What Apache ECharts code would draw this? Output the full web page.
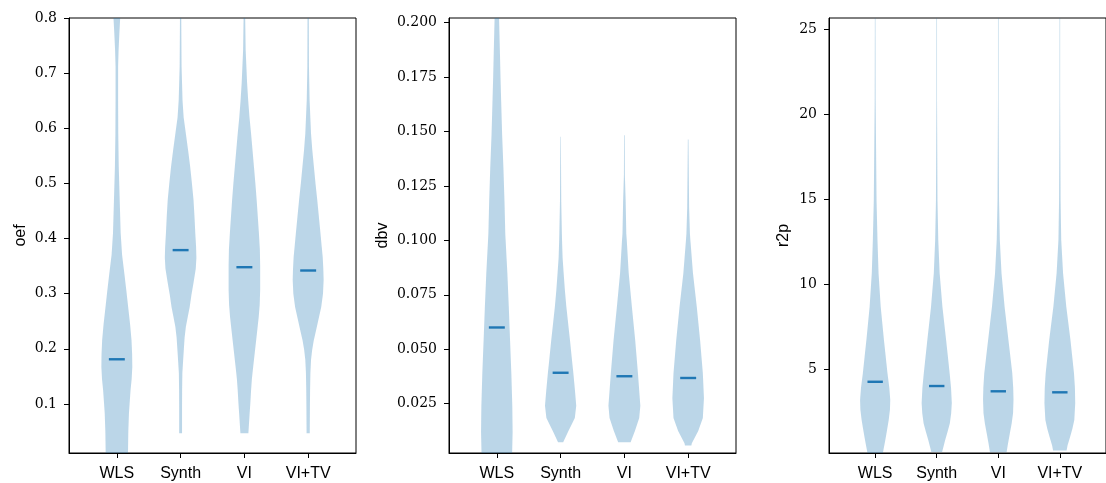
<!DOCTYPE html>
<html>
<head>
<meta charset="utf-8">
<script src="https://cdn.jsdelivr.net/npm/echarts@6/dist/echarts.min.js"></script>
<style>
html,body{margin:0;padding:0;background:#fff;}
#chart{width:1106px;height:483px;}
</style>
</head>
<body>
<div id="chart"></div>
<script>
// ---------- data ----------
const categories = ['WLS', 'Synth', 'VI', 'VI+TV'];
const positions = [1, 2, 3, 4];

const oefTicks = [0.1, 0.2, 0.3, 0.4, 0.5, 0.6, 0.7, 0.8];
const dbvTicks = [0.025, 0.05, 0.075, 0.1, 0.125, 0.15, 0.175, 0.2];
const r2pTicks = [5, 10, 15, 20, 25];

const oefMedians = [0.181, 0.379, 0.348, 0.342];
const dbvMedians = [0.060, 0.0392, 0.0376, 0.0368];
const r2pMedians = [4.25, 4.0, 3.69, 3.63];

// violin profiles: [value, relative density (1 = widest)]
const oefWLS = [[0.8,0.21],[0.773,0.16],[0.742,0.11],[0.712,0.08],[0.65,0.08],[0.59,0.09],[0.53,0.12],[0.47,0.18],[0.41,0.24],[0.37,0.33],[0.337,0.47],[0.305,0.6],[0.276,0.71],[0.245,0.83],[0.216,0.92],[0.19,0.96],[0.167,0.97],[0.145,0.93],[0.125,0.86],[0.1,0.8],[0.083,0.76],[0.05,0.72],[0.011,0.70]];
const oefSynth = [[0.8,0.04],[0.712,0.06],[0.651,0.12],[0.62,0.19],[0.59,0.33],[0.56,0.47],[0.53,0.6],[0.5,0.71],[0.47,0.81],[0.44,0.87],[0.41,0.92],[0.385,0.97],[0.365,0.99],[0.345,0.95],[0.32,0.81],[0.298,0.68],[0.276,0.57],[0.258,0.45],[0.24,0.33],[0.22,0.25],[0.198,0.2],[0.175,0.15],[0.156,0.11],[0.125,0.095],[0.094,0.09],[0.047,0.09]];
const oefVI = [[0.8,0.05],[0.742,0.08],[0.682,0.17],[0.65,0.24],[0.62,0.32],[0.59,0.42],[0.56,0.51],[0.53,0.6],[0.5,0.69],[0.47,0.77],[0.44,0.84],[0.41,0.91],[0.38,0.97],[0.35,0.99],[0.307,0.99],[0.28,0.96],[0.258,0.9],[0.237,0.82],[0.216,0.74],[0.19,0.64],[0.167,0.55],[0.145,0.47],[0.125,0.42],[0.1,0.37],[0.083,0.33],[0.065,0.29],[0.047,0.25]];
const oefVITV = [[0.8,0.04],[0.712,0.05],[0.651,0.09],[0.59,0.18],[0.56,0.26],[0.53,0.36],[0.5,0.46],[0.47,0.57],[0.44,0.67],[0.41,0.77],[0.385,0.85],[0.367,0.91],[0.345,0.95],[0.325,0.97],[0.3,0.93],[0.276,0.82],[0.255,0.66],[0.234,0.5],[0.215,0.35],[0.198,0.25],[0.18,0.18],[0.156,0.14],[0.125,0.12],[0.094,0.11],[0.047,0.1]];

const dbvWLS = [[0.2022,0.14],[0.1875,0.19],[0.175,0.23],[0.1645,0.27],[0.149,0.33],[0.134,0.41],[0.118,0.48],[0.103,0.53],[0.085,0.66],[0.0695,0.75],[0.054,0.83],[0.039,0.91],[0.024,0.97],[0.012,0.99],[0.0023,0.96]];
const dbvSynth = [[0.1476,0.015],[0.13,0.03],[0.118,0.04],[0.103,0.08],[0.1,0.09],[0.092,0.125],[0.085,0.19],[0.077,0.27],[0.0695,0.36],[0.062,0.47],[0.054,0.59],[0.046,0.7],[0.039,0.8],[0.031,0.9],[0.024,0.98],[0.0184,0.89],[0.0155,0.7],[0.0125,0.49],[0.0073,0.16]];
const dbvVI = [[0.1483,0.02],[0.13,0.03],[0.118,0.08],[0.103,0.12],[0.1,0.15],[0.085,0.27],[0.0695,0.47],[0.054,0.68],[0.039,0.85],[0.03,0.94],[0.024,1.0],[0.0184,0.93],[0.0125,0.66],[0.0073,0.39]];
const dbvVITV = [[0.1464,0.02],[0.13,0.04],[0.115,0.06],[0.103,0.11],[0.1,0.14],[0.085,0.3],[0.0695,0.54],[0.054,0.75],[0.039,0.92],[0.0275,0.99],[0.0184,0.92],[0.0125,0.63],[0.0068,0.23],[0.0058,0.2]];

const r2pWLS = [[25.65,0.02],[20.8,0.03],[14.9,0.09],[12.6,0.15],[10.63,0.22],[8.66,0.36],[6.71,0.57],[5.7,0.69],[4.75,0.8],[3.9,0.92],[3.18,0.98],[2.6,0.96],[2.0,0.88],[1.4,0.77],[0.82,0.66],[0.06,0.5]];
const r2pSynth = [[25.65,0.02],[20.8,0.02],[14.9,0.05],[12.6,0.1],[10.63,0.19],[8.66,0.37],[6.71,0.61],[5.7,0.73],[4.75,0.84],[3.9,0.93],[3.0,0.98],[2.4,0.94],[1.8,0.85],[1.3,0.7],[0.82,0.55],[0.12,0.35]];
const r2pVI = [[25.65,0.02],[20.8,0.02],[14.9,0.05],[12.6,0.1],[10.63,0.21],[8.66,0.41],[6.71,0.66],[5.7,0.79],[4.75,0.91],[3.9,0.97],[3.2,0.99],[2.4,0.96],[1.8,0.87],[1.2,0.75],[0.6,0.63],[0.1,0.54]];
const r2pVITV = [[25.65,0.02],[20.8,0.02],[14.9,0.05],[12.6,0.09],[10.63,0.21],[8.66,0.42],[6.71,0.69],[5.7,0.81],[4.75,0.92],[3.9,0.98],[2.98,1.0],[2.0,0.94],[1.5,0.82],[1.02,0.67],[0.5,0.5],[0.2,0.44]];

// ---------- chart ----------
const FILL = '#1f77b4';
const HALF = 0.25;   // half of violin width (x units)
const MED_HALF = 0.125;

const panels = [
  {name: 'oef', ticks: oefTicks, fmt: v => v.toFixed(1), min: 0.011, max: 0.8, medians: oefMedians,
   profiles: [oefWLS, oefSynth, oefVI, oefVITV], left: 69, gap: 40},
  {name: 'dbv', ticks: dbvTicks, fmt: v => v.toFixed(3), min: 0.00234, max: 0.20216, medians: dbvMedians,
   profiles: [dbvWLS, dbvSynth, dbvVI, dbvVITV], left: 449, gap: 58},
  {name: 'r2p', ticks: r2pTicks, fmt: v => String(Math.round(v)), min: 0.06, max: 25.65, medians: r2pMedians,
   profiles: [r2pWLS, r2pSynth, r2pVI, r2pVITV], left: 829, gap: 37}
];

const grids = [], xAxes = [], yAxes = [], series = [];
panels.forEach((p, k) => {
  grids.push({left: p.left, top: 18, width: 287, height: 435, show: true,
    borderColor: '#000', borderWidth: 1, backgroundColor: 'transparent', containLabel: false});
  xAxes.push({
    type: 'value', gridIndex: k, min: 0.25, max: 4.75,
    axisLine: {show: true, onZero: false, lineStyle: {color: '#000', width: 1}},
    axisTick: {show: true, length: 5, lineStyle: {color: '#000', width: 1}, customValues: positions},
    axisLabel: {show: true, customValues: positions, margin: 13,
      formatter: v => categories[Math.round(v) - 1] || '',
      fontFamily: 'Liberation Sans', fontSize: 16, color: '#000'},
    splitLine: {show: false}
  });
  yAxes.push({
    type: 'value', gridIndex: k, min: p.min, max: p.max,
    name: p.name, nameLocation: 'middle', nameGap: p.gap,
    nameTextStyle: {fontFamily: 'Liberation Sans', fontSize: 16, color: '#000'},
    axisLine: {show: true, onZero: false, lineStyle: {color: '#000', width: 1}},
    axisTick: {show: true, length: 5, lineStyle: {color: '#000', width: 1}, customValues: p.ticks},
    axisLabel: {show: true, customValues: p.ticks, margin: 12, formatter: p.fmt,
      fontFamily: 'DejaVu Serif', fontSize: 14, color: '#000'},
    splitLine: {show: false}
  });
  const profiles = p.profiles;
  series.push({
    type: 'custom', xAxisIndex: k, yAxisIndex: k, clip: true, silent: true,
    data: positions.map((x, i) => [x, p.medians[i]]),
    encode: {x: 0, y: 1},
    renderItem: function (params, api) {
      const pos = api.value(0);
      const prof = profiles[params.dataIndex];
      const right = prof.map(d => api.coord([pos + d[1] * HALF, d[0]]));
      const left = prof.slice().reverse().map(d => api.coord([pos - d[1] * HALF, d[0]]));
      return {type: 'polygon', shape: {points: right.concat(left)},
        style: {fill: FILL, opacity: 0.3, stroke: null}};
    },
    z: 2
  });
  series.push({
    type: 'custom', xAxisIndex: k, yAxisIndex: k, clip: true, silent: true,
    data: positions.map((x, i) => [x, p.medians[i]]),
    encode: {x: 0, y: 1},
    renderItem: function (params, api) {
      const pos = api.value(0), m = api.value(1);
      const a = api.coord([pos - MED_HALF, m]);
      const b = api.coord([pos + MED_HALF, m]);
      return {type: 'line', shape: {x1: a[0], y1: a[1], x2: b[0], y2: b[1]},
        style: {stroke: FILL, lineWidth: 2.4}};
    },
    z: 3
  });
});

const chart = echarts.init(document.getElementById('chart'), null, {renderer: 'canvas'});
chart.setOption({
  animation: false,
  backgroundColor: '#fff',
  grid: grids, xAxis: xAxes, yAxis: yAxes, series: series
});
</script>
</body>
</html>
